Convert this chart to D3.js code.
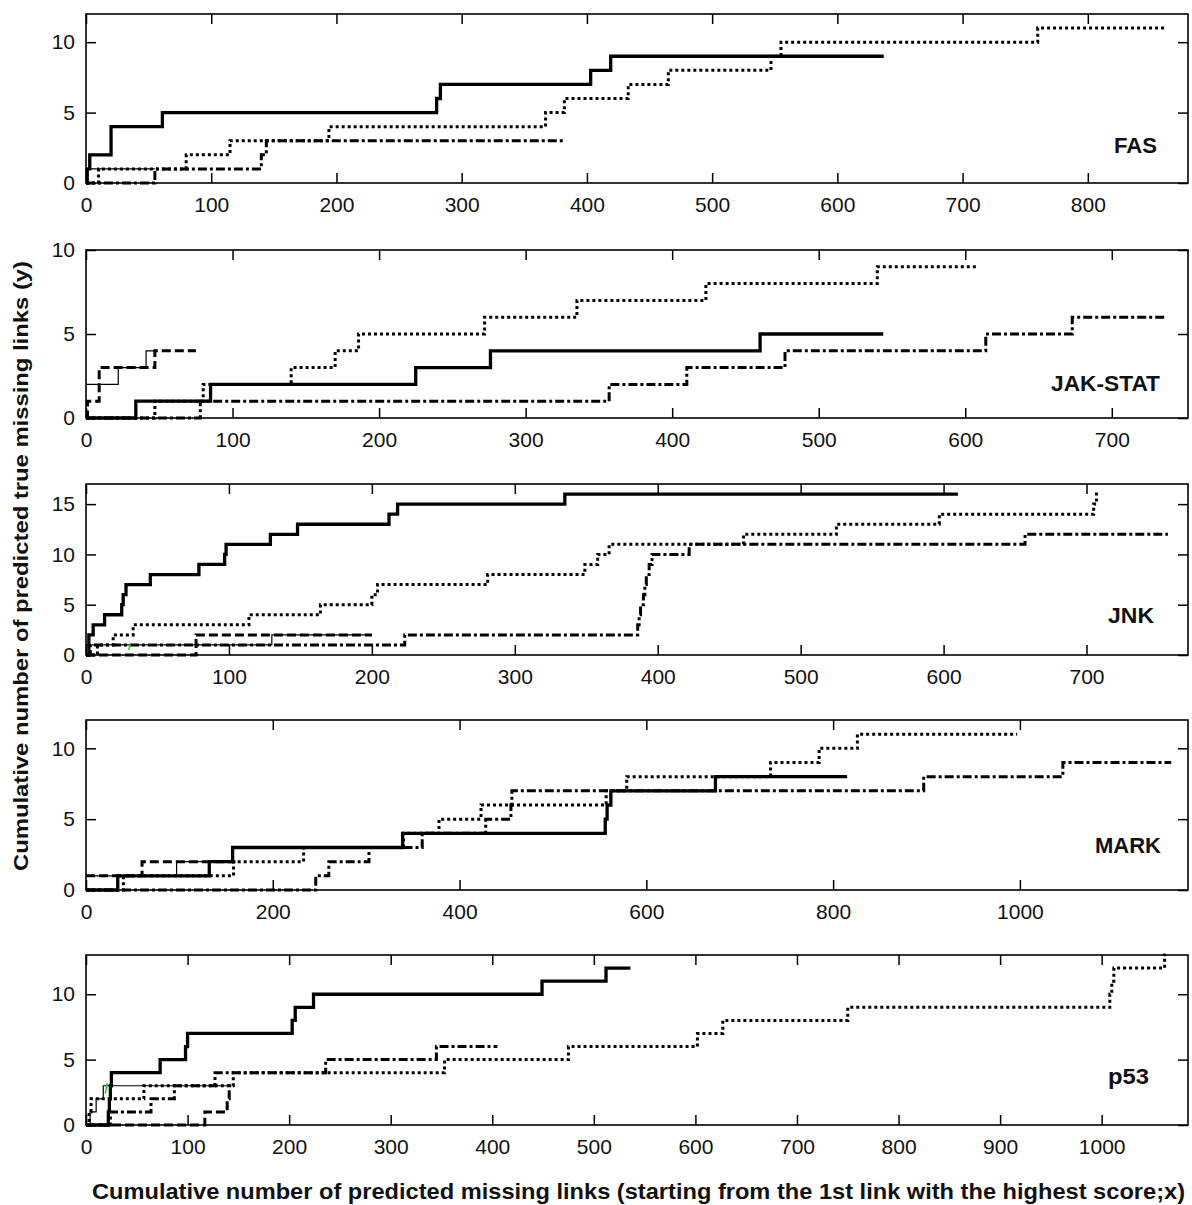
<!DOCTYPE html>
<html><head><meta charset="utf-8">
<script src="https://cdn.jsdelivr.net/npm/d3@7"></script>
<style>body{margin:0;background:#fff} svg{display:block}</style>
</head><body><svg id="c" width="1192" height="1205"></svg>
<script>
// ---------------- data ----------------
const panelNames = ["FAS", "JAK-STAT", "JNK", "MARK", "p53"];
const xTitle = "Cumulative number of predicted missing links (starting from the 1st link with the highest score;x)";
const yTitle = "Cumulative number of predicted true missing links (y)";

// tick labels per panel
const xTicksFAS = [0,100,200,300,400,500,600,700,800];
const xTicksJAK = [0,100,200,300,400,500,600,700];
const xTicksJNK = [0,100,200,300,400,500,600,700];
const xTicksMARK = [0,200,400,600,800,1000];
const xTicksP53 = [0,100,200,300,400,500,600,700,800,900,1000];
const yTicksFAS = [0,5,10];
const yTicksJAK = [0,5,10];
const yTicksJNK = [0,5,10,15];
const yTicksMARK = [0,5,10];
const yTicksP53 = [0,5,10];
const xMax = [880, 752, 771, 1180, 1085];
const yMax = [12, 10, 17, 12, 13];

// step series: [x where count changes, count]; last point = end of curve
const fasSolid = [[0,0],[1,1],[3,2],[20,4],[61,5],[280,6],[283,7],[403,8],[419,9],[637,9]];
const fasDotted = [[0,0],[10,1],[80,2],[115,3],[194,4],[367,5],[382,6],[433,7],[465,8],[547,9],[555,10],[760,11],[862,11]];
const fasDashDot = [[0,0],[55,1],[140,2],[144,3],[381,3]];
const fasDashed = [];
const fasThin = [[0,1],[55,1]];
const fasGreen = [];

const jakSolid = [[0,0],[34,1],[85,2],[225,3],[276,4],[460,5],[544,5]];
const jakDotted = [[0,0],[47,1],[80,2],[140,3],[170,4],[186,5],[272,6],[335,7],[423,8],[540,9],[608,9]];
const jakDashDot = [[0,0],[78,1],[357,2],[410,3],[477,4],[614,5],[673,6],[737,6]];
const jakDashed = [[0,0],[1,1],[9,3],[47,4],[75,4]];
const jakThin = [[0,2],[22,3],[41,4],[47,4]];
const jakGreen = [];

const jnkSolid = [[0,0],[2,2],[5,3],[13,4],[25,5],[26,6],[28,7],[45,8],[79,9],[97,10],[98,11],[129,12],[148,13],[212,14],[218,15],[335,16],[610,16]];
const jnkDotted = [[0,0],[8,1],[19,2],[33,3],[114,4],[164,5],[200,6],[204,7],[281,8],[349,9],[358,10],[366,11],[460,12],[525,13],[597,14],[705,15],[707,16],[708,16]];
const jnkDashDot = [[0,0],[3,1],[223,2],[386,3],[387,4],[388,5],[390,6],[391,7],[392,8],[394,9],[396,10],[422,11],[657,12],[757,12]];
const jnkDashed = [[0,0],[77,2],[200,2]];
const jnkThin = [[0,1],[130,2],[200,2]];
const jnkGreen = [[30,0.5],[31,1.2]];

const markSolid = [[0,0],[34,1],[132,2],[157,3],[339,4],[556,5],[558,6],[562,7],[674,8],[815,8]];
const markDotted = [[0,0],[40,1],[158,2],[233,3],[340,4],[378,5],[423,6],[557,7],[579,8],[733,9],[785,10],[826,11],[997,11]];
const markDashDot = [[0,0],[246,1],[260,2],[303,3],[360,4],[428,5],[455,6],[456,7],[897,8],[1046,9],[1162,9]];
const markDashed = [[0,1],[60,2],[160,2]];
const markThin = [[0,1],[97,2],[132,2]];
const markGreen = [];

const p53Solid = [[0,0],[22,1],[23,2],[24,3],[25,4],[73,5],[98,6],[100,7],[203,8],[206,9],[224,10],[449,11],[512,12],[536,12]];
const p53Dotted = [[0,0],[3,1],[5,2],[57,3],[145,4],[353,5],[475,6],[602,7],[627,8],[750,9],[1008,10],[1010,11],[1012,12],[1062,13],[1063,13]];
const p53DashDot = [[0,0],[24,1],[64,2],[87,3],[127,4],[236,5],[345,6],[405,6]];
const p53Dashed = [[0,0],[117,1],[139,2],[141,3],[143,3]];
const p53Thin = [[0,0],[4,1],[10,2],[17,3],[141,3]];
const p53Green = [[19,2.4],[21,3.2]];

// ---------------- layout / styles ----------------
const L = 86, R = 1188;
const boxes = [[14,183],[250,418],[484,655],[720,890],[955,1125]];
const labelPos = [[1114,153,43],[1051,391,109],[1108,623,46],[1095,853,66],[1108,1084,41]];
const styles = {
  thin:    {w:1.2, dash:null},
  dashed:  {w:3, dash:"9,4"},
  dashdot: {w:3, dash:"9,3,3,3"},
  dotted:  {w:3, dash:"3,3"},
  solid:   {w:3.3, dash:null},
  green:   {w:1.5, dash:null, color:"#22cc22", linear:true}
};

const panels = [
  {xt:xTicksFAS, yt:yTicksFAS, s:{thin:fasThin, dashed:fasDashed, dashdot:fasDashDot, dotted:fasDotted, solid:fasSolid, green:fasGreen}},
  {xt:xTicksJAK, yt:yTicksJAK, s:{thin:jakThin, dashed:jakDashed, dashdot:jakDashDot, dotted:jakDotted, solid:jakSolid, green:jakGreen}},
  {xt:xTicksJNK, yt:yTicksJNK, s:{thin:jnkThin, dashed:jnkDashed, dashdot:jnkDashDot, dotted:jnkDotted, solid:jnkSolid, green:jnkGreen}},
  {xt:xTicksMARK, yt:yTicksMARK, s:{thin:markThin, dashed:markDashed, dashdot:markDashDot, dotted:markDotted, solid:markSolid, green:markGreen}},
  {xt:xTicksP53, yt:yTicksP53, s:{thin:p53Thin, dashed:p53Dashed, dashdot:p53DashDot, dotted:p53Dotted, solid:p53Solid, green:p53Green}}
];

const svg = d3.select("#c");
const FONT = "'Liberation Sans', Arial, Helvetica, sans-serif";
const NARROW = "'Liberation Sans Narrow', 'Arial Narrow', 'Liberation Sans', Arial, sans-serif";

panels.forEach((p, i) => {
  const [top, bot] = boxes[i];
  const x = d3.scaleLinear().domain([0, xMax[i]]).range([L, R]);
  const y = d3.scaleLinear().domain([0, yMax[i]]).range([bot, top]);
  const g = svg.append("g");

  // series
  Object.keys(styles).forEach(k => {
    const data = p.s[k];
    if (!data || !data.length) return;
    const st = styles[k];
    const line = d3.line().x(d => x(d[0])).y(d => y(d[1]))
      .curve(st.linear ? d3.curveLinear : d3.curveStepAfter);
    g.append("path").datum(data).attr("d", line)
      .attr("fill", "none").attr("stroke", st.color || "#000")
      .attr("stroke-width", st.w)
      .attr("stroke-dasharray", st.dash)
      .attr("stroke-linejoin", "miter");
  });

  // axes with inward ticks
  const axB = d3.axisBottom(x).tickValues(p.xt).tickSizeInner(-10).tickSizeOuter(0).tickPadding(14).tickFormat(d3.format("d"));
  const axT = d3.axisTop(x).tickValues(p.xt).tickSizeInner(-10).tickSizeOuter(0).tickFormat("");
  const axL = d3.axisLeft(y).tickValues(p.yt).tickSizeInner(-10).tickSizeOuter(0).tickPadding(11).tickFormat(d3.format("d"));
  const axR = d3.axisRight(y).tickValues(p.yt).tickSizeInner(-10).tickSizeOuter(0).tickFormat("");
  const gb = g.append("g").attr("transform", `translate(0,${bot})`).call(axB);
  const gt = g.append("g").attr("transform", `translate(0,${top})`).call(axT);
  const gl = g.append("g").attr("transform", `translate(${L},0)`).call(axL);
  const gr = g.append("g").attr("transform", `translate(${R},0)`).call(axR);
  [gb, gt, gl, gr].forEach(a => {
    a.select(".domain").remove();
    a.selectAll(".tick line").attr("stroke", "#000").attr("stroke-width", 1.5);
    a.selectAll("text").attr("font-family", FONT).attr("font-size", 21).attr("fill", "#111");
  });

  // frame
  g.append("rect").attr("x", L).attr("y", top).attr("width", R - L).attr("height", bot - top)
    .attr("fill", "none").attr("stroke", "#000").attr("stroke-width", 1.6);

  // panel name
  const [lx, ly, lw] = labelPos[i];
  g.append("text").attr("x", lx).attr("y", ly).text(panelNames[i])
    .attr("font-family", NARROW).attr("font-weight", "bold").attr("font-size", 22)
    .attr("textLength", lw).attr("lengthAdjust", "spacingAndGlyphs").attr("fill", "#111");
});

// axis titles
svg.append("text").attr("x", 638.5).attr("y", 1199).attr("text-anchor", "middle")
  .attr("font-family", NARROW).attr("font-weight", "bold").attr("font-size", 22)
  .attr("textLength", 1093).attr("lengthAdjust", "spacingAndGlyphs").attr("fill", "#111").text(xTitle);
svg.append("text").attr("transform", "translate(28,566) rotate(-90)").attr("text-anchor", "middle")
  .attr("font-family", NARROW).attr("font-weight", "bold").attr("font-size", 21)
  .attr("textLength", 610).attr("lengthAdjust", "spacingAndGlyphs").attr("fill", "#111").text(yTitle);
</script></body></html>
